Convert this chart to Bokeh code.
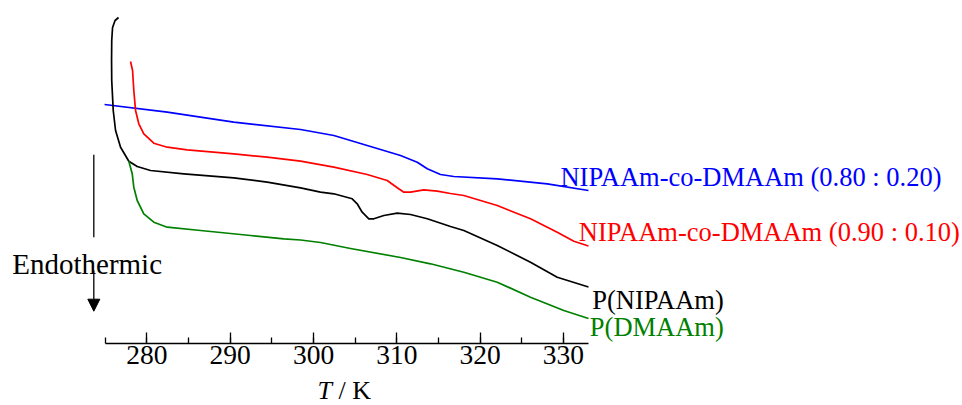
from bokeh.plotting import figure
from bokeh.layouts import column
from bokeh.models import Range1d, SingleIntervalTicker, Label, Arrow, NormalHead
from bokeh.embed import file_html
from bokeh.resources import INLINE

# ---- data (DSC heat flow, arbitrary units; x = temperature / K) ----
T_nipaam = [276.60, 276.18, 275.88, 275.78, 275.76, 275.78, 275.84, 275.96, 276.24, 276.84,
            277.83, 278.84, 280.44, 284.43, 290.43, 294.44, 298.44, 300.84, 302.44, 304.64,
            305.24, 305.84, 306.64, 307.24, 308.44, 310.05, 311.64, 313.65, 316.44, 318.04,
            322.05, 326.04, 329.25, 333.00]
H_nipaam = [32.6, 32.3, 31.6, 30.3, 28.3, 26.3, 25.3, 23.3, 21.3, 19.63,
            18.23, 17.7, 17.3, 16.97, 16.57, 16.13, 15.57, 15.13, 14.97, 14.47,
            13.97, 13.13, 12.47, 12.47, 12.8, 13.03, 12.9, 12.47, 11.7, 11.3,
            9.8, 8.13, 6.63, 5.65]

T_co90 = [278.04, 278.28, 278.43, 278.64, 279.03, 279.63, 280.83, 282.44, 284.84, 290.43,
          294.44, 298.44, 302.44, 306.44, 308.84, 310.05, 310.84, 311.64, 313.24, 314.85,
          316.44, 318.04, 322.05, 326.04, 329.25, 331.24, 333.00]
H_co90 = [28.2, 27.3, 25.3, 23.3, 21.97, 20.97, 20.03, 19.63, 19.37, 18.97,
          18.63, 18.23, 17.63, 16.9, 16.3, 15.57, 15.13, 15.13, 15.37, 15.23,
          15.0, 14.8, 13.8, 12.47, 11.13, 10.23, 9.75]

T_co80 = [274.92, 282.44, 290.43, 298.44, 302.44, 306.44, 310.44, 312.45, 313.65, 315.24,
          316.84, 322.05, 328.05, 333.00]
H_co80 = [23.9, 23.13, 22.13, 21.4, 20.8, 19.8, 18.8, 18.13, 17.47, 16.9,
          16.7, 16.47, 15.97, 15.3]

T_dmaam = [277.83, 278.24, 278.43, 278.84, 279.63, 280.83, 282.44, 286.44, 292.44, 296.44,
           298.44, 300.84, 304.44, 310.44, 314.04, 318.04, 322.05, 326.04, 330.04, 333.00]
H_dmaam = [18.23, 16.97, 15.63, 14.3, 12.97, 12.13, 11.63, 11.3, 10.8, 10.47,
           10.35, 10.1, 9.5, 8.6, 7.97, 7.13, 6.13, 4.63, 3.3, 2.5]

series_names = ["NIPAAm-co-DMAAm (0.80 : 0.20)", "NIPAAm-co-DMAAm (0.90 : 0.10)",
                "P(NIPAAm)", "P(DMAAm)"]
series_colors = ["#0000ff", "#ff0000", "#000000", "#008000"]

SERIF = "Liberation Serif"

p = figure(width=962, height=376, output_backend="svg", toolbar_location=None,
           x_range=Range1d(262.43, 377.89), y_range=Range1d(0, 34.3),
           y_axis_location=None, min_border_left=0, min_border_right=0,
           min_border_top=0, min_border_bottom=33)
p.outline_line_color = None
p.xgrid.visible = False
p.ygrid.visible = False
p.background_fill_color = "white"
p.border_fill_color = "white"

ax = p.xaxis[0]
ax.ticker = SingleIntervalTicker(interval=10, num_minor_ticks=2)
ax.bounds = (275, 333)
ax.axis_line_width = 1.5
ax.axis_line_color = "black"
ax.major_tick_in = 11
ax.major_tick_out = 0
ax.minor_tick_in = 6
ax.minor_tick_out = 0
ax.major_tick_line_width = 1.3
ax.minor_tick_line_width = 1.3
ax.major_label_text_font = SERIF
ax.major_label_text_font_size = "27.5px"
ax.major_label_text_color = "black"
ax.major_label_standoff = 2

for xs, ys, c in [(T_co80, H_co80, series_colors[0]), (T_co90, H_co90, series_colors[1]),
                  (T_nipaam, H_nipaam, series_colors[2]), (T_dmaam, H_dmaam, series_colors[3])]:
    p.line(xs, ys, line_color=c, line_width=1.7, line_join="round")

# series labels
label_pos = [(329.64, 16.63), (331.84, 11.13), (333.45, 4.37), (333.16, 1.7)]
for name, c, (lx, ly) in zip(series_names, series_colors, label_pos):
    p.add_layout(Label(x=lx, y=ly, text=name, text_color=c, text_font=SERIF,
                       text_font_size="26.5px", text_baseline="alphabetic", text_align="left"))

# Endothermic arrow
p.add_layout(Label(x=263.84, y=7.97, text="Endothermic", text_font=SERIF, text_color="black",
                   text_font_size="29px", text_baseline="alphabetic", text_align="left"))
p.segment(x0=[273.63], y0=[18.87], x1=[273.63], y1=[10.63], line_color="black", line_width=1.3)
p.add_layout(Arrow(x_start=273.63, y_start=7.3, x_end=273.63, y_end=3.23,
                   line_color="black", line_width=1.3,
                   end=NormalHead(size=12, fill_color="black", line_color="black")))

# axis title strip: T / K with italic T
p2 = figure(width=962, height=29, output_backend="svg", toolbar_location=None,
            x_range=p.x_range, y_range=Range1d(0, 29),
            x_axis_location=None, y_axis_location=None,
            min_border_left=0, min_border_right=0, min_border_top=0, min_border_bottom=0)
p2.outline_line_color = None
p2.background_fill_color = "white"
p2.border_fill_color = "white"
p2.xgrid.visible = False
p2.ygrid.visible = False
p2.add_layout(Label(x=300.48, y=15.5, text="T", text_font=SERIF, text_font_size="26px",
                    text_color="black", text_font_style="italic",
                    text_baseline="alphabetic", text_align="left"))
p2.add_layout(Label(x=303.0, y=15.5, text="/ K", text_font=SERIF, text_font_size="26px",
                    text_color="black", text_baseline="alphabetic", text_align="left"))

layout = column(p, p2, spacing=0)
open("out.html", "w").write(file_html(layout, INLINE))
